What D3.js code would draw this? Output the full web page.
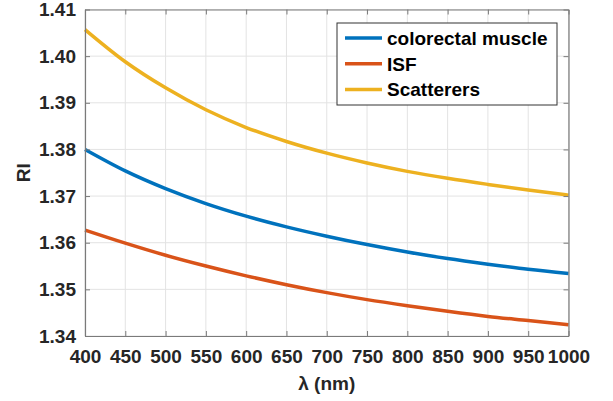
<!DOCTYPE html>
<html>
<head>
    <meta charset="utf-8">
    <style>
        body { margin: 0; background: #fff; }
        svg { font-family: "Liberation Sans", Arial, sans-serif; font-weight: bold; }
        .grid line { stroke: #e3e3e3; stroke-width: 1px; }
        .line { fill: none; stroke-width: 3.5px; }
    </style>
</head>
<body>
    <script src="https://d3js.org/d3.v7.min.js"></script>
    <script>
        // data
        var wavelength = [400, 450, 500, 550, 600, 650, 700, 750, 800, 850, 900, 950, 1000];
        var muscle     = [1.3800, 1.3754, 1.3716, 1.3684, 1.3657, 1.3634, 1.3614, 1.3596, 1.3580, 1.3566, 1.3554, 1.3543, 1.3534];
        var isf        = [1.3627, 1.3599, 1.3573, 1.3550, 1.3529, 1.3510, 1.3493, 1.3478, 1.3465, 1.3453, 1.3442, 1.3433, 1.3424];
        var scatterers = [1.4057, 1.3988, 1.3932, 1.3885, 1.3847, 1.3817, 1.3792, 1.3771, 1.3753, 1.3738, 1.3725, 1.3713, 1.3702];
        var seriesNames = ["colorectal muscle", "ISF", "Scatterers"];
        var colors = ["#0072BD", "#D95319", "#EDB120"];
        var xTicks = [400, 450, 500, 550, 600, 650, 700, 750, 800, 850, 900, 950, 1000];
        var yTicks = [1.34, 1.35, 1.36, 1.37, 1.38, 1.39, 1.40, 1.41];

        var margin = { top: 9.5, right: 44.5, bottom: 65, left: 85 },
            width = 613 - margin.left - margin.right,
            height = 401 - margin.top - margin.bottom;

        var x = d3.scaleLinear().domain([400, 1000]).range([0, width]);
        var y = d3.scaleLinear().domain([1.34, 1.41]).range([height, 0]);

        var svg = d3.select("body").append("svg")
            .attr("width", 613)
            .attr("height", 401)
            .append("g")
            .attr("transform", "translate(" + margin.left + "," + margin.top + ")");

        // grid
        var grid = svg.append("g").attr("class", "grid");
        grid.selectAll(".vx").data(xTicks).enter().append("line")
            .attr("x1", function (d) { return x(d); }).attr("x2", function (d) { return x(d); })
            .attr("y1", 0).attr("y2", height);
        grid.selectAll(".hy").data(yTicks).enter().append("line")
            .attr("x1", 0).attr("x2", width)
            .attr("y1", function (d) { return y(d); }).attr("y2", function (d) { return y(d); });

        // lines
        var allSeries = [muscle, isf, scatterers];
        var valueline = d3.line()
            .x(function (d, i) { return x(wavelength[i]); })
            .y(function (d) { return y(d); })
            .curve(d3.curveMonotoneX);

        allSeries.forEach(function (s, i) {
            svg.append("path")
                .datum(s)
                .attr("class", "line")
                .attr("d", valueline)
                .style("stroke", colors[i]);
        });

        // axes (MATLAB style: ticks inside, box on)
        function styleAxis(g) {
            g.select(".domain").attr("stroke", "#7a7a7a").attr("stroke-width", 1.2);
            g.selectAll(".tick line").attr("stroke", "#7a7a7a");
            g.selectAll(".tick text").attr("fill", "#262626").style("font-size", "19px").style("font-weight", "bold");
        }

        svg.append("g")
            .attr("transform", "translate(0," + height + ")")
            .call(d3.axisBottom(x).tickValues(xTicks).tickFormat(d3.format("d")).tickSizeInner(-5).tickSizeOuter(0).tickPadding(13))
            .call(styleAxis)
            .selectAll(".tick text").attr("dy", "0.74em");

        svg.append("g")
            .call(d3.axisLeft(y).tickValues(yTicks).tickFormat(d3.format(".2f")).tickSizeInner(-5).tickSizeOuter(0).tickPadding(9))
            .call(styleAxis);

        svg.append("g")
            .call(d3.axisTop(x).tickValues(xTicks).tickFormat("").tickSizeInner(-5).tickSizeOuter(0))
            .call(styleAxis);

        svg.append("g")
            .attr("transform", "translate(" + width + ",0)")
            .call(d3.axisRight(y).tickValues(yTicks).tickFormat("").tickSizeInner(-5).tickSizeOuter(0))
            .call(styleAxis);

        // axis labels
        svg.append("text")
            .attr("x", width / 2)
            .attr("y", height + 54)
            .attr("text-anchor", "middle")
            .attr("fill", "#262626")
            .style("font-size", "19px")
            .text("\u03bb (nm)");

        svg.append("text")
            .attr("transform", "rotate(-90)")
            .attr("x", -height / 2)
            .attr("y", -55)
            .attr("text-anchor", "middle")
            .attr("fill", "#262626")
            .style("font-size", "19px")
            .text("RI");

        // legend
        var lg = svg.append("g").attr("transform", "translate(" + (337 - margin.left) + "," + (23 - margin.top) + ")");
        lg.append("rect")
            .attr("width", 220).attr("height", 82)
            .attr("fill", "#fff").attr("stroke", "#333").attr("stroke-width", 1);

        var item = lg.selectAll(".legend")
            .data(seriesNames)
            .enter().append("g")
            .attr("class", "legend")
            .attr("transform", function (d, i) { return "translate(0," + (15 + i * 25.7) + ")"; });

        item.append("line")
            .attr("x1", 8).attr("x2", 45)
            .attr("y1", 0).attr("y2", 0)
            .attr("stroke-width", 3.5)
            .attr("stroke", function (d, i) { return colors[i]; });

        item.append("text")
            .attr("x", 50)
            .attr("y", 7)
            .attr("fill", "#000")
            .style("font-size", "19px")
            .text(function (d) { return d; });
    </script>
</body>
</html>
